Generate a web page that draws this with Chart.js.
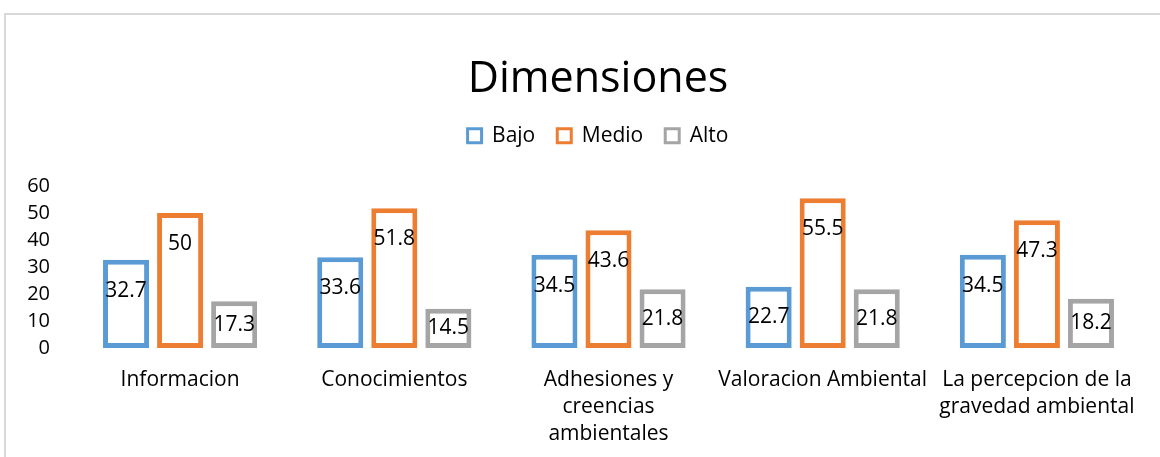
<!DOCTYPE html>
<html>
<head>
<meta charset="utf-8">
<script src="https://cdn.jsdelivr.net/npm/chart.js@4.4.0/dist/chart.umd.min.js"></script>
<style>
  body { margin: 0; background: #fff; overflow: hidden; }
  #frame { position: absolute; left: 4px; top: 13px; width: 1200px; height: 500px; border: 2px solid #d9d9d9; }
  #wrap { position: absolute; left: 0; top: 0; width: 1200px; height: 457px; }
</style>
</head>
<body>
<div id="frame"></div>
<div id="wrap"><canvas id="dim_Chart" width="1200" height="457"></canvas></div>
<script>
const labels = [
    'Informacion',
    'Conocimientos',
    ['Adhesiones y', 'creencias', 'ambientales'],
    'Valoracion Ambiental',
    ['La percepcion de la', 'gravedad ambiental']
];
const bajo = [32.7, 33.6, 34.5, 22.7, 34.5];
const medio = [50, 51.8, 43.6, 55.5, 47.3];
const alto = [17.3, 14.5, 21.8, 21.8, 18.2];
const yTicks = [0, 10, 20, 30, 40, 50, 60];

const FONT = '"Open Sans", sans-serif';
const ctx = document.getElementById('dim_Chart');

// value labels drawn near the top of each bar
const barLabels = {
    id: 'barLabels',
    afterDatasetsDraw(chart) {
        const c = chart.ctx;
        c.save();
        c.font = '21px ' + FONT;
        c.fillStyle = '#000';
        c.textAlign = 'center';
        c.textBaseline = 'middle';
        chart.data.datasets.forEach((ds, i) => {
            chart.getDatasetMeta(i).data.forEach((bar, j) => {
                const y = Math.min(bar.y + 31, (bar.y + bar.base) / 2);
                c.fillText(String(ds.data[j]), bar.x, y);
            });
        });
        c.restore();
    }
};

function Bar_Chart() {
    new Chart(ctx, {
        type: 'bar',
        data: {
            labels: labels,
            datasets: [
                { label: 'Bajo', data: bajo, borderColor: '#5B9BD5' },
                { label: 'Medio', data: medio, borderColor: '#ED7D31' },
                { label: 'Alto', data: alto, borderColor: '#A5A5A5' }
            ]
        },
        options: {
            responsive: false,
            animation: false,
            // the original frame runs past the right edge of the window,
            // so title and legend sit a bit right of the window centre
            layout: { padding: { top: 0, right: 30, left: 26, bottom: 0 } },
            datasets: {
                bar: {
                    backgroundColor: '#fff',
                    borderWidth: 5,
                    borderSkipped: false,
                    categoryPercentage: 0.757,
                    barPercentage: 0.852
                }
            },
            scales: {
                x: {
                    grid: { display: false, drawTicks: false },
                    border: { display: false },
                    ticks: {
                        color: '#000',
                        padding: 18,
                        maxRotation: 0,
                        autoSkip: false,
                        font: { family: FONT, size: 21, lineHeight: 1.3 }
                    },
                    afterFit(scale) { scale.height = 109; }
                },
                y: {
                    min: 0,
                    max: 60,
                    grid: { display: false, drawTicks: false },
                    border: { display: false },
                    afterBuildTicks(scale) { scale.ticks = yTicks.map(v => ({ value: v })); },
                    ticks: {
                        color: '#000',
                        padding: 23,
                        font: { family: FONT, size: 20 }
                    },
                    afterFit(scale) { scale.width = 47; }
                },
                // empty spacer on the right so the plot ends where the original does
                yRight: {
                    position: 'right',
                    grid: { display: false, drawTicks: false },
                    border: { display: false },
                    ticks: { display: false },
                    afterFit(scale) { scale.width = 26; }
                }
            },
            plugins: {
                title: {
                    display: true,
                    text: 'Dimensiones',
                    color: '#000',
                    font: { family: FONT, size: 43, weight: 'normal', lineHeight: 1.1 },
                    padding: { top: 56, bottom: 0 }
                },
                subtitle: {
                    display: true,
                    text: ' ',
                    weight: 500,
                    font: { size: 1, lineHeight: 1 },
                    padding: { top: 28.7, bottom: 0 }
                },
                legend: {
                    display: true,
                    labels: {
                        color: '#000',
                        boxWidth: 14,
                        boxHeight: 14,
                        padding: 22,
                        font: { family: FONT, size: 21 },
                        generateLabels(chart) {
                            return Chart.defaults.plugins.legend.labels.generateLabels(chart)
                                .map(item => Object.assign(item, { lineWidth: 3 }));
                        }
                    }
                },
                tooltip: { enabled: false }
            }
        },
        plugins: [barLabels]
    });
}
Bar_Chart()
</script>
</body>
</html>
